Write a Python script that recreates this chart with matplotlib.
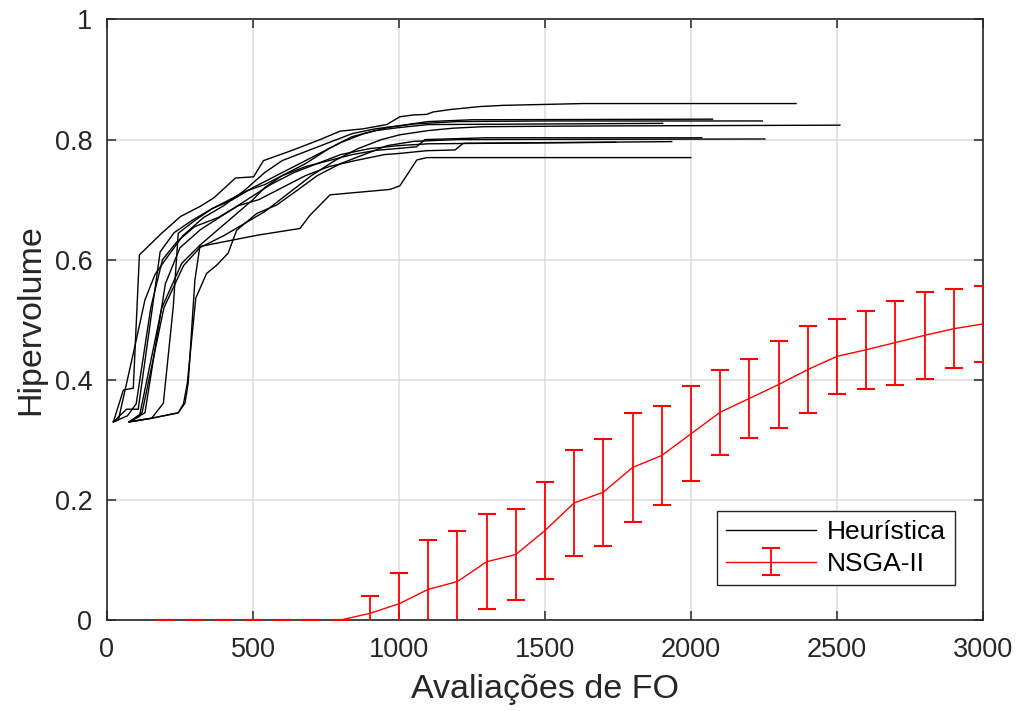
import matplotlib
matplotlib.use("Agg")
import matplotlib.pyplot as plt
import numpy as np

plt.rcParams['font.family'] = ['Liberation Sans', 'DejaVu Sans']

# Heuristic runs: (evaluations, hypervolume) pairs for each run
run_01 = [(22, 0.330), (56, 0.383), (90, 0.386), (111, 0.608), (187, 0.644), (252, 0.672),
          (320, 0.689), (366, 0.703), (440, 0.736), (502, 0.738), (536, 0.765), (628, 0.781),
          (730, 0.800), (798, 0.814), (878, 0.818), (958, 0.825), (1003, 0.838), (1049, 0.841),
          (1095, 0.842), (1117, 0.846), (1175, 0.850), (1277, 0.855), (1357, 0.857),
          (1631, 0.860), (2360, 0.860)]
run_02 = [(22, 0.330), (39, 0.333), (90, 0.444), (130, 0.533), (164, 0.575), (200, 0.600),
          (260, 0.640), (330, 0.670), (400, 0.690), (470, 0.715), (540, 0.745), (600, 0.765),
          (680, 0.780), (760, 0.795), (840, 0.810), (920, 0.818), (1000, 0.823), (1100, 0.830),
          (1250, 0.833), (2074, 0.834)]
run_03 = [(22, 0.330), (67, 0.351), (107, 0.351), (182, 0.613), (230, 0.645), (290, 0.665),
          (360, 0.685), (430, 0.700), (500, 0.720), (560, 0.735), (640, 0.755), (720, 0.775),
          (800, 0.795), (880, 0.810), (960, 0.820), (1050, 0.826), (1200, 0.830), (1500, 0.831),
          (2244, 0.831)]
run_04 = [(76, 0.330), (111, 0.339), (187, 0.519), (256, 0.594), (318, 0.624), (380, 0.650),
          (440, 0.675), (500, 0.700), (540, 0.720), (600, 0.740), (680, 0.760), (760, 0.785),
          (840, 0.805), (920, 0.815), (1000, 0.820), (1100, 0.825), (1903, 0.827)]
run_05 = [(76, 0.330), (120, 0.345), (195, 0.520), (262, 0.590), (318, 0.620), (400, 0.640),
          (470, 0.660), (540, 0.680), (620, 0.710), (700, 0.740), (780, 0.765), (860, 0.785),
          (940, 0.800), (1003, 0.808), (1100, 0.815), (1186, 0.819), (1289, 0.8215),
          (1630, 0.8226), (2510, 0.824)]
run_06 = [(76, 0.330), (153, 0.336), (193, 0.361), (227, 0.522), (244, 0.644), (300, 0.665),
          (360, 0.685), (420, 0.700), (480, 0.715), (540, 0.725), (600, 0.740), (680, 0.755),
          (760, 0.765), (840, 0.775), (920, 0.782), (1003, 0.7855), (1060, 0.788), (1089, 0.800),
          (1300, 0.803), (2037, 0.803)]
run_07 = [(76, 0.330), (153, 0.336), (244, 0.345), (262, 0.360), (275, 0.394), (304, 0.536),
          (341, 0.577), (376, 0.591), (415, 0.611), (444, 0.649), (513, 0.677), (581, 0.691),
          (650, 0.715), (720, 0.740), (800, 0.760), (880, 0.775), (960, 0.790), (1050, 0.797),
          (1200, 0.800), (2253, 0.801)]
run_08 = [(22, 0.330), (70, 0.340), (100, 0.360), (150, 0.520), (190, 0.600), (240, 0.630),
          (300, 0.655), (380, 0.670), (450, 0.690), (520, 0.700), (600, 0.720), (680, 0.740),
          (760, 0.755), (850, 0.765), (950, 0.775), (1003, 0.777), (1095, 0.7815), (1192, 0.7827),
          (1220, 0.7938), (1934, 0.7966)]
run_09 = [(76, 0.330), (130, 0.345), (200, 0.560), (250, 0.620), (320, 0.650), (400, 0.675),
          (480, 0.700), (560, 0.725), (640, 0.745), (720, 0.760), (800, 0.775), (900, 0.785),
          (1000, 0.790), (1100, 0.793), (1742, 0.7955)]
run_10 = [(79, 0.330), (153, 0.336), (244, 0.345), (267, 0.361), (278, 0.394), (301, 0.566),
          (318, 0.622), (518, 0.641), (661, 0.652), (695, 0.674), (764, 0.708), (969, 0.717),
          (1003, 0.723), (1061, 0.766), (1095, 0.770), (1999, 0.770)]
heuristic_runs = [run_01, run_02, run_03, run_04, run_05, run_06, run_07, run_08, run_09, run_10]

# NSGA-II: mean hypervolume and standard deviation per evaluation budget
nsga_evals = [200, 300, 400, 500, 600, 700, 800, 900, 1000, 1100, 1200, 1300, 1400, 1500,
              1600, 1700, 1800, 1900, 2000, 2100, 2200, 2300, 2400, 2500, 2600, 2700, 2800,
              2900, 3000]
nsga_mean = [0.0, 0.0, 0.0, 0.0, 0.0, 0.0, 0.0, 0.011, 0.027, 0.051, 0.064, 0.097, 0.109,
             0.149, 0.195, 0.213, 0.254, 0.274, 0.310, 0.346, 0.369, 0.392, 0.417, 0.439,
             0.450, 0.462, 0.474, 0.485, 0.493]
nsga_std = [0.0, 0.0, 0.0, 0.0, 0.0, 0.0, 0.0, 0.029, 0.052, 0.082, 0.085, 0.079, 0.076,
            0.080, 0.088, 0.089, 0.091, 0.083, 0.079, 0.071, 0.066, 0.072, 0.073, 0.062,
            0.065, 0.070, 0.073, 0.066, 0.064]

x_ticks = [0, 500, 1000, 1500, 2000, 2500, 3000]
y_ticks = [0, 0.2, 0.4, 0.6, 0.8, 1]
y_tick_labels = ['0', '0.2', '0.4', '0.6', '0.8', '1']

fig = plt.figure(figsize=(10.2, 7.11), dpi=100)
ax = fig.add_axes([0.1049, 0.128, 0.8588, 0.8446])

for i, run in enumerate(heuristic_runs):
    xs, ys = zip(*run)
    ax.plot(xs, ys, color='black', lw=1.0, zorder=3,
            label='Heurística' if i == 0 else None)

ax.errorbar(nsga_evals, nsga_mean, yerr=nsga_std, color='red', lw=1.0,
            elinewidth=1.3, capsize=6.3, capthick=1.5, zorder=4, label='NSGA-II')

ax.set_xlim(0, 3000)
ax.set_ylim(0, 1)
ax.set_xticks(x_ticks)
ax.set_yticks(y_ticks)
ax.set_yticklabels(y_tick_labels)
ax.grid(True, color='#dfdfdf', lw=1.2, zorder=0)
ax.set_axisbelow(True)

dark = '#262626'
for side in ax.spines.values():
    side.set_color(dark)
    side.set_linewidth(1.2)
ax.tick_params(direction='in', length=6.5, width=1.1, colors=dark, labelsize=19.5,
               top=True, right=True)
ax.tick_params(axis='x', pad=12)
ax.tick_params(axis='y', pad=10.5)

ax.set_xlabel('Avaliações de FO', fontsize=24.5, color=dark, labelpad=8)
ax.set_ylabel('Hipervolume', fontsize=24.5, color=dark, labelpad=6)

leg = ax.legend(loc='lower right', bbox_to_anchor=(0.968, 0.058), borderaxespad=0,
                fontsize=19, frameon=True, fancybox=False, edgecolor=dark, framealpha=1,
                handlelength=3.4, borderpad=0.35, labelspacing=0.3, handletextpad=0.4)
leg.get_frame().set_linewidth(1.0)

fig.savefig('out.png', dpi=100)
